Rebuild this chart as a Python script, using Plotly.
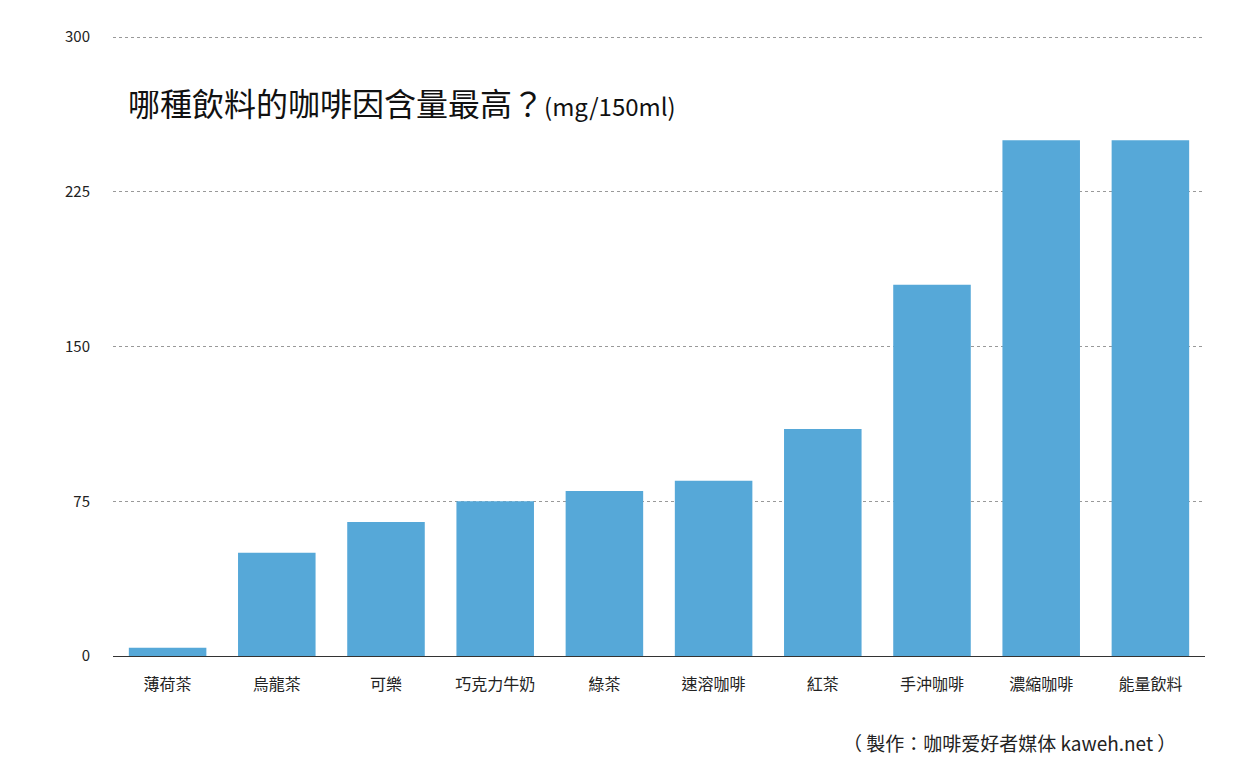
import plotly.graph_objects as go

drinks = ['薄荷茶', '烏龍茶', '可樂', '巧克力牛奶', '綠茶', '速溶咖啡', '紅茶', '手沖咖啡', '濃縮咖啡', '能量飲料']
caffeine = [4, 50, 65, 75, 80, 85, 110, 180, 250, 250]
y_ticks = [0, 75, 150, 225, 300]

FONT = 'Noto Sans CJK TC'

fig = go.Figure()
fig.add_trace(go.Bar(
    x=drinks,
    y=caffeine,
    marker=dict(color='#56a8d8', line=dict(width=0)),
    hoverinfo='x+y',
))

# page body has an 8px margin, so the figure is sized to fit inside the window
fig.update_layout(
    width=1243,
    height=757,
    margin=dict(l=105, r=46, t=28, b=109),
    plot_bgcolor='white',
    paper_bgcolor='white',
    bargap=0.29,
    showlegend=False,
    font=dict(family=FONT, size=15, color='#222'),
    xaxis=dict(
        showline=True,
        linecolor='#333',
        linewidth=1,
        ticks='',
        tickfont=dict(size=16),
        ticklabelstandoff=14,
        automargin=False,
    ),
    yaxis=dict(
        range=[0, 300.6],
        tickvals=y_ticks,
        showgrid=True,
        gridcolor='#999',
        griddash='dot',
        gridwidth=1,
        zeroline=False,
        ticks='',
        ticklabelstandoff=22,
        tickfont=dict(size=15),
        automargin=False,
    ),
    annotations=[
        dict(
            text='哪種飲料的咖啡因含量最高？<span style="font-size:24px">(mg/150ml)</span>',
            xref='paper', yref='paper', x=0.012, y=0.893,
            xanchor='left', yanchor='middle', showarrow=False,
            font=dict(family=FONT, size=32, color='#111'),
        ),
        dict(
            text='（ 製作：咖啡爱好者媒体 kaweh.net ）',
            xref='paper', yref='paper', x=0.975, y=-0.14,
            xanchor='right', yanchor='middle', showarrow=False,
            font=dict(family=FONT, size=19, color='#222'),
        ),
    ],
)

fig.write_html("out.html")
